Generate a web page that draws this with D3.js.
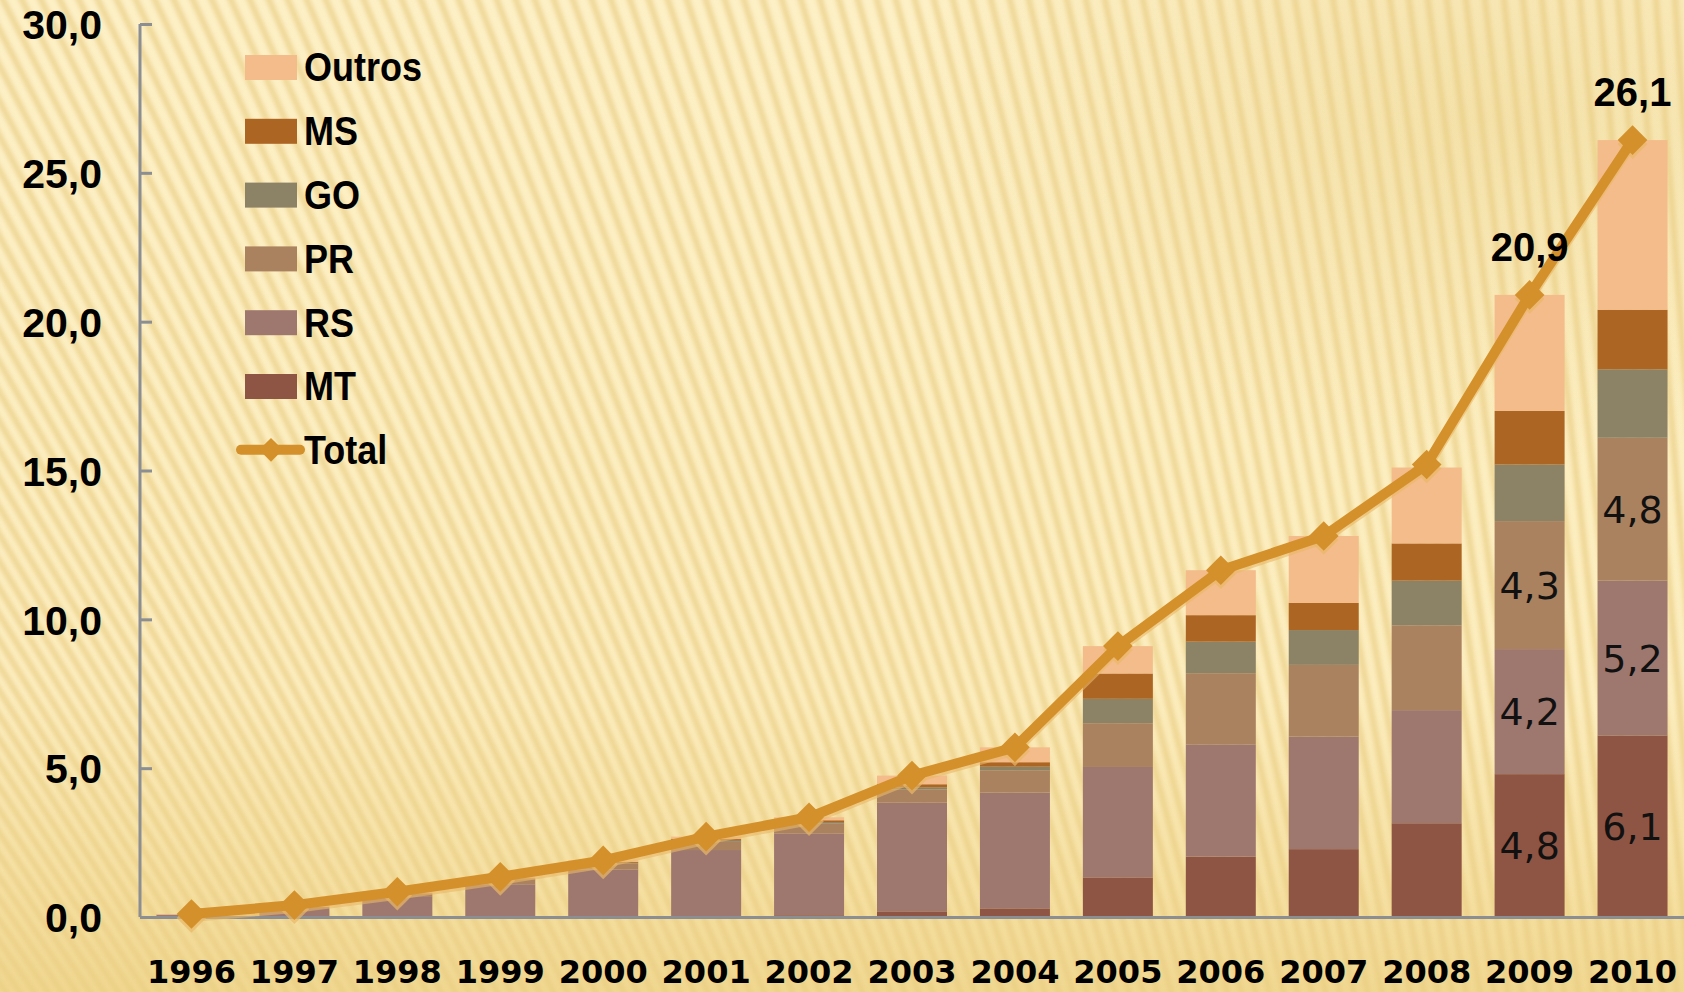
<!DOCTYPE html>
<html>
<head>
<meta charset="utf-8">
<script src="https://cdn.jsdelivr.net/npm/d3@7"></script>
<style>
  html, body { margin: 0; padding: 0; background: #FCEFC4; overflow: hidden; }
  svg { display: block; }
</style>
</head>
<body>
<svg id="chart" width="1684" height="992"></svg>
<script>
// ---- data ----
const years  = ["1996","1997","1998","1999","2000","2001","2002","2003","2004","2005","2006","2007","2008","2009","2010"];
const MT     = [0.00, 0.00, 0.00, 0.00, 0.00, 0.00, 0.06, 0.19, 0.29, 1.33, 2.03, 2.28, 3.15, 4.80, 6.10];
const RS     = [0.08, 0.30, 0.70, 1.10, 1.60, 2.25, 2.75, 3.65, 3.89, 3.71, 3.77, 3.78, 3.80, 4.20, 5.20];
const PR     = [0.00, 0.05, 0.10, 0.15, 0.20, 0.30, 0.34, 0.45, 0.75, 1.47, 2.39, 2.41, 2.85, 4.30, 4.80];
const GO     = [0.00, 0.00, 0.00, 0.02, 0.02, 0.04, 0.04, 0.07, 0.12, 0.82, 1.06, 1.17, 1.50, 1.90, 2.30];
const MS     = [0.00, 0.00, 0.00, 0.03, 0.03, 0.04, 0.06, 0.10, 0.15, 0.85, 0.89, 0.91, 1.25, 1.80, 2.00];
const Outros = [0.02, 0.05, 0.05, 0.05, 0.05, 0.07, 0.10, 0.29, 0.50, 0.92, 1.51, 2.25, 2.55, 3.90, 5.70];
const Total  = [0.10, 0.40, 0.85, 1.35, 1.90, 2.70, 3.35, 4.75, 5.70, 9.10, 11.65, 12.80, 15.20, 20.90, 26.10];
const yTicks = [0, 5, 10, 15, 20, 25, 30];
const seriesNames = ["MT", "RS", "PR", "GO", "MS", "Outros"];
const seriesValues = [MT, RS, PR, GO, MS, Outros];
const legendOrder = ["Outros", "MS", "GO", "PR", "RS", "MT"];
const segmentLabelYears = ["2009", "2010"];
const segmentLabelSeries = ["MT", "RS", "PR"];
const totalLabelYears = ["2009", "2010"];

// ---- styles ----
const colors = { MT: "#8F5544", RS: "#9E786F", PR: "#AA8260", GO: "#8C8266", MS: "#AD6524", Outros: "#F3BC8A" };
const lineColor = "#D4902B";
const axisColor = "#8B8E93";

const W = 1684, H = 992;
const svg = d3.select("#chart");
const defs = svg.append("defs");

// background
const bg = defs.append("linearGradient").attr("id", "bgGrad").attr("x1", 0).attr("y1", 0).attr("x2", 0).attr("y2", 1);
bg.append("stop").attr("offset", "0%").attr("stop-color", "#FDF0C6");
bg.append("stop").attr("offset", "70%").attr("stop-color", "#FCEDBE");
bg.append("stop").attr("offset", "90%").attr("stop-color", "#F6E0A2");
bg.append("stop").attr("offset", "100%").attr("stop-color", "#F1D891");
svg.append("rect").attr("width", W).attr("height", H).attr("fill", "url(#bgGrad)");

const rg = defs.append("radialGradient").attr("id", "trGrad").attr("cx", 0.88).attr("cy", 0.12).attr("r", 0.35);
rg.append("stop").attr("offset", "0%").attr("stop-color", "#E9CF86").attr("stop-opacity", 0.45);
rg.append("stop").attr("offset", "100%").attr("stop-color", "#E9CF86").attr("stop-opacity", 0);
svg.append("rect").attr("width", W).attr("height", H).attr("fill", "url(#trGrad)");

const blur = defs.append("filter").attr("id", "blur").attr("x", "-10%").attr("y", "-10%").attr("width", "120%").attr("height", "120%");
blur.append("feGaussianBlur").attr("stdDeviation", 2.2);

// stripes radiating from a far focal point
const fx = 1950, fy = 3800;
const stripes = svg.append("g").attr("filter", "url(#blur)");
d3.range(-700, 1760, 19).forEach(x0 => {
  const dx = x0 - fx, dy = 0 - fy;
  const t = 1.05;
  stripes.append("line")
    .attr("x1", fx + dx * 0.72).attr("y1", fy + dy * 0.72)
    .attr("x2", fx + dx * t).attr("y2", fy + dy * t)
    .attr("stroke", "#E8CC82").attr("stroke-opacity", 0.7).attr("stroke-width", 6);
});

// ---- scales ----
const x = d3.scaleBand().domain(years).range([140, 1684]).paddingInner(0.32).paddingOuter(0.16);
const y = d3.scaleLinear().domain([0, 30]).range([917, 24]);

// ---- stacked bars ----
const rows = years.map((yr, i) => {
  const o = { year: yr };
  seriesNames.forEach((s, k) => o[s] = seriesValues[k][i]);
  return o;
});
const stacked = d3.stack().keys(seriesNames)(rows);
const barsG = svg.append("g");
stacked.forEach(layer => {
  barsG.append("g").attr("fill", colors[layer.key])
    .selectAll("rect").data(layer).join("rect")
    .attr("x", d => x(d.data.year))
    .attr("width", x.bandwidth())
    .attr("y", d => y(d[1]))
    .attr("height", d => Math.max(0, y(d[0]) - y(d[1])));
});

// segment labels
const fmt = v => d3.format(".1f")(v).replace(".", ",");
stacked.filter(l => segmentLabelSeries.includes(l.key)).forEach(layer => {
  layer.filter(d => segmentLabelYears.includes(d.data.year)).forEach(d => {
    svg.append("text")
      .attr("x", x(d.data.year) + x.bandwidth() / 2)
      .attr("y", y((d[0] + d[1]) / 2))
      .attr("dy", "0.36em")
      .attr("text-anchor", "middle")
      .attr("font-family", "'DejaVu Sans', sans-serif")
      .attr("font-size", 38)
      .attr("fill", "#111")
      .text(fmt(d[1] - d[0]));
  });
});

// ---- axes ----
const yAxis = d3.axisLeft(y).tickValues(yTicks).tickSize(-12).tickPadding(0).tickFormat(fmt);
const yG = svg.append("g").attr("transform", "translate(140,0)").call(yAxis);
yG.select(".domain").attr("stroke", axisColor).attr("stroke-width", 3).attr("d", `M0,${y(30)}V${y(0)}`);
yG.selectAll(".tick line").attr("stroke", axisColor).attr("stroke-width", 3);
yG.selectAll(".tick text")
  .attr("x", -38)
  .attr("dy", "0.36em")
  .attr("font-family", "'Liberation Sans', Arial, sans-serif")
  .attr("font-weight", "bold")
  .attr("font-size", 41)
  .attr("fill", "#000");

const xAxis = d3.axisBottom(x).tickSize(0).tickPadding(0);
const xG = svg.append("g").attr("transform", `translate(0,${y(0)})`).call(xAxis);
xG.select(".domain").attr("stroke", axisColor).attr("stroke-width", 3);
xG.selectAll(".tick text")
  .attr("y", 66)
  .attr("dy", 0)
  .attr("font-family", "'DejaVu Sans', sans-serif")
  .attr("font-weight", "bold")
  .attr("font-size", 32)
  .attr("fill", "#000");

// ---- total line ----
const cx = d => x(d) + x.bandwidth() / 2;
const pts = years.map((yr, i) => [cx(yr), y(Total[i])]);
const diamond = d3.symbol().type(d3.symbolDiamond2).size(560);
const lineGen = d3.line();
// soft shadow
svg.append("path").attr("d", lineGen(pts.map(p => [p[0], p[1] + 3])))
  .attr("fill", "none").attr("stroke", "#E9B868").attr("stroke-opacity", 0.6).attr("stroke-width", 10).attr("stroke-linejoin", "round");
svg.append("g").selectAll("path").data(pts).join("path")
  .attr("d", diamond).attr("transform", d => `translate(${d[0]},${d[1] + 4})`).attr("fill", "#E9B868").attr("opacity", 0.7);
svg.append("path").attr("d", lineGen(pts))
  .attr("fill", "none").attr("stroke", lineColor).attr("stroke-width", 10).attr("stroke-linejoin", "round");
svg.append("g").selectAll("path").data(pts).join("path")
  .attr("d", diamond).attr("transform", d => `translate(${d[0]},${d[1]})`).attr("fill", lineColor);

// total labels
years.forEach((yr, i) => {
  if (!totalLabelYears.includes(yr)) return;
  svg.append("text")
    .attr("x", cx(yr)).attr("y", y(Total[i]) - 34)
    .attr("text-anchor", "middle")
    .attr("font-family", "'Liberation Sans', Arial, sans-serif")
    .attr("font-weight", "bold").attr("font-size", 40).attr("fill", "#000")
    .text(fmt(Total[i]));
});

// ---- legend ----
const lg = svg.append("g").attr("transform", "translate(245,67)");
const step = 63.8;
legendOrder.forEach((s, i) => {
  const g = lg.append("g").attr("transform", `translate(0,${i * step})`);
  g.append("rect").attr("x", 0).attr("y", -12).attr("width", 52).attr("height", 25).attr("fill", colors[s]);
  g.append("text").attr("transform", "translate(59,0) scale(0.9,1)").attr("dy", "0.36em")
    .attr("font-family", "'Liberation Sans', Arial, sans-serif").attr("font-weight", "bold")
    .attr("font-size", 40).attr("fill", "#000").text(s);
});
const tg = lg.append("g").attr("transform", `translate(0,${6 * step})`);
tg.append("line").attr("x1", -4).attr("x2", 55).attr("y1", 0).attr("y2", 0)
  .attr("stroke", lineColor).attr("stroke-width", 10).attr("stroke-linecap", "round");
tg.append("path").attr("d", d3.symbol().type(d3.symbolDiamond2).size(360)).attr("transform", "translate(26,0)").attr("fill", lineColor);
tg.append("text").attr("transform", "translate(59,0) scale(0.9,1)").attr("dy", "0.36em")
  .attr("font-family", "'Liberation Sans', Arial, sans-serif").attr("font-weight", "bold")
  .attr("font-size", 40).attr("fill", "#000").text("Total");
</script>
</body>
</html>
